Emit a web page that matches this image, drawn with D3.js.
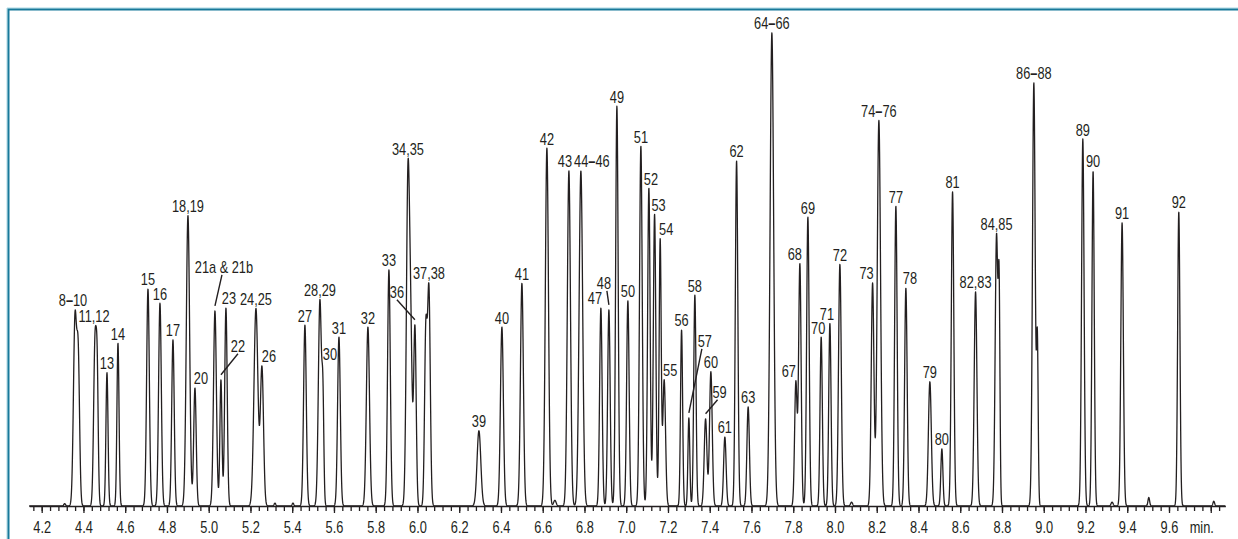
<!DOCTYPE html>
<html>
<head>
<meta charset="utf-8">
<script src="https://cdn.jsdelivr.net/npm/d3@7"></script>
<style>
  body { margin: 0; background: #fff; }
  svg { display: block; font-family: "Liberation Sans", Arial, sans-serif; }
  .lbl { font-size: 16px; fill: #231f20; }
  .axis text { font-size: 16px; fill: #231f20; font-family: "Liberation Sans", Arial, sans-serif; }
  .axis path, .axis line { stroke: #231f20; stroke-width: 1.3; }
</style>
</head>
<body>
<div id="chart"></div>
<script>
// Peak table: retention time (min), relative height, width (sigma, min)
var peakTimes = [4.3595, 4.375, 4.4553, 4.466, 4.5127, 4.5654, 4.7091, 4.7665, 4.8288, 4.9006,
  4.9341, 5.0299, 5.0586, 5.0826, 5.2263, 5.2550, 5.4609, 5.5328, 5.5471, 5.6239,
  5.7627, 5.8633, 5.9543, 5.9680, 5.9878, 6.0400, 6.0549, 6.2944, 6.4045, 6.5003,
  6.6200, 6.7254, 6.7828, 6.8786, 6.9170, 6.9553, 7.0079, 7.0702, 7.1085, 7.1358,
  7.1626, 7.1818, 7.2651, 7.3001, 7.3288, 7.3801, 7.4055, 7.4725, 7.5286, 7.5841,
  7.6977, 7.8126, 7.8318, 7.8702, 7.9339, 7.9756, 8.0235, 8.1801, 8.2103, 8.2917,
  8.3396, 8.4545, 8.5120, 8.5632, 8.6734, 8.7739, 8.7864, 8.9526, 8.9694, 9.1872,
  9.2364, 9.3753, 9.6469,
  4.310, 5.3173, 5.4036, 6.6582, 8.0794, 9.3274, 9.5032, 9.8145];
var peakHeights = [39, 30, 34, 24, 28, 34.2, 45.6, 42.6, 34.9, 61,
  24.8, 41, 26.5, 41.6, 41.5, 29, 38, 43.3, 20, 35.5,
  37.6, 49.6, 67.4, 32, 37.5, 36, 45, 15.8, 37.6, 46.8,
  75.2, 70.4, 70.4, 41.6, 41.2, 84, 43.1, 75.6, 66.8, 61.3,
  55.9, 26.5, 37, 18.5, 44.3, 18.3, 28.2, 14.5, 72.5, 20.8,
  99.4, 26, 50.8, 60.7, 35.5, 38.4, 50.8, 46.8, 81, 63,
  45.8, 26.1, 12, 66, 45, 57, 41, 88.9, 34, 77.1,
  70.4, 59.5, 61.8,
  0.5, 0.6, 0.6, 1.2, 0.8, 0.8, 1.8, 1.0];
var peakWidths = [0.0075, 0.0065, 0.0065, 0.005, 0.005, 0.005, 0.0065, 0.0065, 0.006, 0.008,
  0.006, 0.007, 0.005, 0.006, 0.0095, 0.0075, 0.0065, 0.0075, 0.0045, 0.0065,
  0.0075, 0.0065, 0.0075, 0.007, 0.006, 0.006, 0.0065, 0.009, 0.007, 0.007,
  0.0075, 0.0075, 0.0085, 0.006, 0.006, 0.006, 0.006, 0.0065, 0.006, 0.006,
  0.005, 0.0065, 0.005, 0.0045, 0.0055, 0.0065, 0.0065, 0.006, 0.006, 0.006,
  0.0085, 0.006, 0.006, 0.006, 0.0055, 0.0055, 0.0065, 0.0065, 0.008, 0.006,
  0.006, 0.007, 0.005, 0.006, 0.0065, 0.0065, 0.004, 0.0065, 0.004, 0.006,
  0.0055, 0.006, 0.0055,
  0.004, 0.004, 0.004, 0.006, 0.005, 0.005, 0.004, 0.004];

// Peak labels and the retention time they sit on
var labelNames = ["8–10", "11,12", "13", "14", "15", "16", "17", "18,19", "20", "21a & 21b",
  "22", "23", "24,25", "26", "27", "28,29", "30", "31", "32", "33",
  "34,35", "36", "37,38", "39", "40", "41", "42", "43", "44–46", "47",
  "48", "49", "50", "51", "52", "53", "54", "55", "56", "57",
  "58", "59", "60", "61", "62", "63", "64–66", "67", "68", "69",
  "70", "71", "72", "73", "74–76", "77", "78", "79", "80", "81",
  "82,83", "84,85", "86–88", "89", "90", "91", "92"];
var labelTimes = [4.3595, 4.4553, 4.5127, 4.5654, 4.7091, 4.7665, 4.8288, 4.9006, 4.9341, 5.0299,
  5.0586, 5.0826, 5.2263, 5.2550, 5.4609, 5.5328, 5.5471, 5.6239, 5.7627, 5.8633,
  5.9543, 5.9878, 6.0549, 6.2944, 6.4045, 6.5003, 6.6200, 6.7254, 6.7828, 6.8786,
  6.9170, 6.9553, 7.0079, 7.0702, 7.1085, 7.1358, 7.1626, 7.1818, 7.2651, 7.3001,
  7.3288, 7.3801, 7.4055, 7.4725, 7.5286, 7.5841, 7.6977, 7.8126, 7.8318, 7.8702,
  7.9339, 7.9756, 8.0235, 8.1801, 8.2103, 8.2917, 8.3396, 8.4545, 8.5120, 8.5632,
  8.6734, 8.7739, 8.9526, 9.1872, 9.2364, 9.3753, 9.6469];

var tickValues = [4.2, 4.4, 4.6, 4.8, 5.0, 5.2, 5.4, 5.6, 5.8, 6.0, 6.2, 6.4, 6.6, 6.8,
  7.0, 7.2, 7.4, 7.6, 7.8, 8.0, 8.2, 8.4, 8.6, 8.8, 9.0, 9.2, 9.4, 9.6];
var tickLabels = ["4.2", "4.4", "4.6", "4.8", "5.0", "5.2", "5.4", "5.6", "5.8", "6.0", "6.2", "6.4", "6.6", "6.8",
  "7.0", "7.2", "7.4", "7.6", "7.8", "8.0", "8.2", "8.4", "8.6", "8.8", "9.0", "9.2", "9.4", "9.6"];
var unitLabel = "min.";

// label nudges in px: [dx, baseline above peak top, leader start dx]
var labelOffsets = {
  "8–10": [-2], "11,12": [-1], "20": [6], "23": [3], "26": [7], "30": [7],
  "43": [-4], "44–46": [11], "47": [-6], "52": [2], "53": [4], "54": [6], "55": [6],
  "67": [-7], "68": [-5], "70": [-3], "71": [-3], "73": [-6], "78": [4],
  "21a & 21b": [9, -38, -2], "22": [17, -28, 0], "36": [-18, -27, 0],
  "48": [-5, -21, 3], "57": [16, -71, -3], "59": [14, -21, -2]
};

// the figure uses a condensed face; squeeze the installed sans horizontally
var narrow = 0.8;

var svgWidth = 1238;
var svgHeight = 539;

var svg = d3.select("#chart")
  .append("svg")
  .attr("width", svgWidth)
  .attr("height", svgHeight);

// frame (left + top edges)
svg.append("path")
  .attr("d", "M7,539V8H1238")
  .attr("fill", "none")
  .attr("stroke", "#a9d9e5")
  .attr("stroke-width", 1);
svg.append("path")
  .attr("d", "M8.5,539V9.5H1238")
  .attr("fill", "none")
  .attr("stroke", "#17799a")
  .attr("stroke-width", 2);

var x = d3.scaleLinear().domain([4.2, 9.6]).range([41.7, 1169]);
var y = d3.scaleLinear().domain([0, 100]).range([506, 30]);

function signal(t) {
  var s = 0;
  for (var i = 0; i < peakTimes.length; i++) {
    var d = t - peakTimes[i];
    var w = peakWidths[i];
    if (Math.abs(d) < 8 * w) s += peakHeights[i] * Math.exp(-d * d / (2 * w * w));
  }
  return s;
}

// highest point of the trace right around a label's time
function localTop(t) {
  return d3.max(d3.range(-0.003, 0.0031, 0.0005), function(d) { return signal(t + d); });
}

// axis
var axisScale = x.copy().domain([4.14, 9.87]).range([x(4.14), x(9.87)]);

var minorTicks = d3.range(0, 143).map(function(i) { return Math.round((4.16 + i * 0.04) * 100) / 100; })
  .filter(function(v) { return v <= 9.85; });

svg.append("g")
  .attr("class", "axis")
  .attr("transform", "translate(0,506)")
  .call(d3.axisBottom(axisScale).tickValues(minorTicks).tickSize(5).tickSizeOuter(0).tickFormat(""));

var majorAxis = svg.append("g")
  .attr("class", "axis")
  .attr("transform", "translate(0,506)")
  .call(d3.axisBottom(axisScale)
    .tickValues(tickValues.concat([9.8]))
    .tickSize(7)
    .tickSizeOuter(0)
    .tickPadding(9)
    .tickFormat(function(d, i) { return i < tickLabels.length ? tickLabels[i] : ""; }));
majorAxis.select(".domain").remove();
majorAxis.selectAll("text").attr("transform", "scale(" + narrow + ",1)");

svg.append("text")
  .attr("class", "lbl")
  .attr("transform", "translate(" + (x(9.8) - 9) + "," + (506 + 16) + ") scale(" + narrow + ",1)")
  .attr("dy", "0.71em")
  .attr("text-anchor", "middle")
  .text(unitLabel);

// chromatogram trace
var trace = d3.range(4.14, 9.87, 0.0008).map(function(t) { return [t, signal(t)]; });

svg.append("path")
  .datum(trace)
  .attr("fill", "none")
  .attr("stroke", "#231f20")
  .attr("stroke-width", 1.3)
  .attr("stroke-linejoin", "round")
  .attr("d", d3.line().x(function(d) { return x(d[0]); }).y(function(d) { return y(d[1]); }));

// peak labels
labelNames.forEach(function(name, i) {
  var t = labelTimes[i];
  var px = x(t);
  var top = y(localTop(t));
  var off = labelOffsets[name] || [0];
  var lx = px + off[0];
  var ly = top + (off.length > 1 ? off[1] : -3.5);

  var txt = svg.append("text")
    .attr("class", "lbl")
    .attr("transform", "translate(" + lx + "," + ly + ") scale(" + narrow + ",1)")
    .attr("text-anchor", "middle");

  if (name.indexOf("–") > 0) {
    var parts = name.split("–");
    txt.append("tspan").text(parts[0]);
    txt.append("tspan").attr("font-weight", "bold").text("–");
    txt.append("tspan").text(parts[1]);
  } else {
    txt.text(name);
  }

  if (off.length > 2) {
    svg.append("line")
      .attr("x1", lx + off[2])
      .attr("y1", ly + 2)
      .attr("x2", px)
      .attr("y2", top - 5)
      .attr("stroke", "#231f20")
      .attr("stroke-width", 1.4);
  }
});
</script>
</body>
</html>
